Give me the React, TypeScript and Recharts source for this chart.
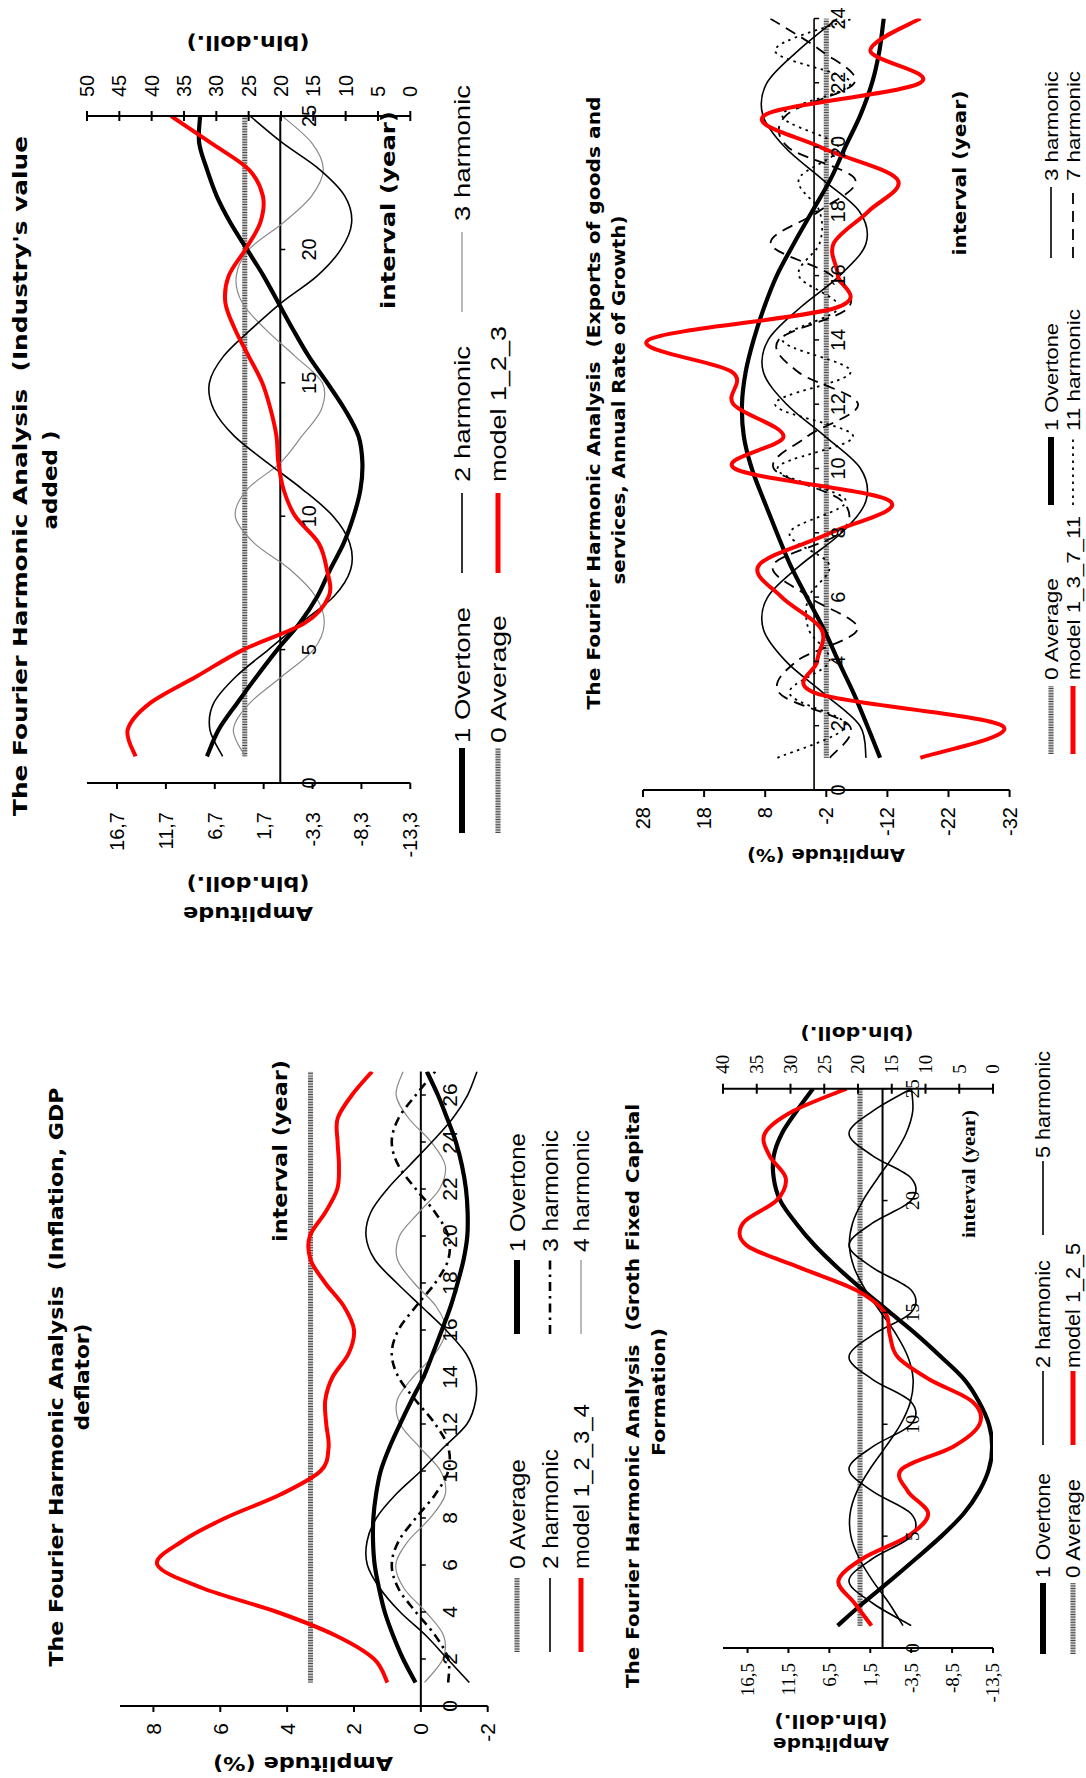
import React from 'react';
import { LineChart, Line, XAxis, YAxis, ReferenceLine, ReferenceDot } from 'recharts';

// ================= DATA =================
// Industry's value added (years 1..25). Harmonics on left axis, model & average on right axis.
const indYears = [1, 2, 3, 4, 5, 6, 7, 8, 9, 10, 11, 12, 13, 14, 15, 16, 17, 18, 19, 20, 21, 22, 23, 24, 25];
const indOvertone = [7.5, 6.3, 4.4, 2.4, 0.3, -2.0, -3.8, -5.1, -6.5, -7.5, -8.2, -8.4, -8.0, -6.6, -4.8, -2.9, -1.3, 0.2, 1.7, 3.4, 5.1, 6.5, 7.5, 8.3, 8.2];
const indHarm2 = [5.9, 7.2, 6.8, 4.5, 1.2, -2.1, -5.5, -7.2, -7.1, -5.4, -2.3, 1.3, 4.7, 6.8, 7.25, 5.8, 3.0, -0.1, -3.75, -6.2, -7.3, -6.6, -4.0, -0.2, 3.1];
const indHarm3 = [3.6, 4.8, 3.1, -0.2, -3.4, -4.5, -3.6, -1.0, 2.7, 4.6, 3.4, 0.0, -2.2, -4.2, -4.3, -1.5, 1.5, 3.9, 4.5, 3.2, -0.3, -3.2, -4.4, -3.2, -0.2];
const indModel = [42.5, 43.7, 40.2, 33.0, 25.8, 16.3, 12.6, 12.9, 14.2, 17.8, 19.6, 20.4, 20.7, 21.6, 22.9, 25.0, 27.1, 28.6, 28.1, 25.5, 23.2, 22.8, 25.0, 30.9, 37.0];
const indAverage = [25.6, 25.6, 25.6, 25.6, 25.6, 25.6, 25.6, 25.6, 25.6, 25.6, 25.6, 25.6, 25.6, 25.6, 25.6, 25.6, 25.6, 25.6, 25.6, 25.6, 25.6, 25.6, 25.6, 25.6, 25.6];
const indLeftTicks = [-13.3, -8.3, -3.3, 1.7, 6.7, 11.7, 16.7];
const indRightTicks = [0, 5, 10, 15, 20, 25, 30, 35, 40, 45, 50];
const indXTicks = [0, 5, 10, 15, 20, 25];

// Exports of goods and services (years 1..24)
const expYears = [1, 2, 3, 4, 5, 6, 7, 8, 9, 10, 11, 12, 13, 14, 15, 16, 17, 18, 19, 20, 21, 22, 23, 24];
const expOvertone = [-10.8, -8.7, -6.5, -4.0, -1.6, 1.2, 3.9, 6.1, 8.2, 10.2, 11.5, 11.8, 11.2, 9.9, 8.2, 6.1, 3.3, 0.3, -2.7, -5.1, -7.6, -9.5, -10.7, -11.4];
const expHarm3 = [-8.5, -7.5, -1.6, 4.6, 8.3, 7.6, 2.2, -4.5, -8.5, -7.6, -1.8, 4.5, 8.3, 7.5, 2.3, -4.2, -8.5, -7.4, -1.3, 4.8, 8.4, 7.7, 2.6, -3.8];
const expHarm7 = [-2.6, -5.8, 5.6, 2.9, -7.1, 0.8, 6.7, -4.3, -4.5, 6.6, 1.1, -7.2, 2.6, 5.8, -5.6, -2.9, 7.1, -0.8, -6.7, 4.3, 4.5, -6.6, -1.1, 7.2];
const expHarm11 = [6.0, -5.2, 4.0, -2.5, 0.9, 0.9, -2.5, 4.0, -5.2, 6.0, -6.4, 6.4, -6.0, 5.2, -4.0, 2.5, -0.9, -0.9, 2.5, -4.0, 5.2, -6.0, 6.4, -6.4];
const expModel = [-17.4, -30.8, -0.5, -0.5, -1.2, 5.3, 9.0, -2.7, -12.3, 13.0, 5.0, 13.2, 13.4, 27.1, -3.6, -3.9, -3.2, -8.9, -13.6, -1.0, 8.0, -17.4, -9.2, -17.4];
const expAverage = [-2, -2, -2, -2, -2, -2, -2, -2, -2, -2, -2, -2, -2, -2, -2, -2, -2, -2, -2, -2, -2, -2, -2, -2];
const expLeftTicks = [-32, -22, -12, -2, 8, 18, 28];
const expXTicks = [0, 2, 4, 6, 8, 10, 12, 14, 16, 18, 20, 22, 24];

// Inflation, GDP deflator (years 1..27)
const infYears = [1, 2, 3, 4, 5, 6, 7, 8, 9, 10, 11, 12, 13, 14, 15, 16, 17, 18, 19, 20, 21, 22, 23, 24, 25, 26, 27];
const infOvertone = [0.16, 0.53, 0.83, 1.08, 1.25, 1.38, 1.43, 1.42, 1.34, 1.2, 0.94, 0.62, 0.28, -0.08, -0.36, -0.63, -0.89, -1.1, -1.28, -1.39, -1.4, -1.35, -1.23, -1.05, -0.79, -0.51, -0.18];
const infHarm2 = [-1.45, -0.8, -0.15, 0.62, 1.22, 1.6, 1.61, 1.33, 0.75, 0.0, -0.68, -1.38, -1.64, -1.63, -1.35, -0.75, -0.02, 0.72, 1.38, 1.64, 1.5, 1.0, 0.34, -0.33, -0.95, -1.4, -1.68];
const infHarm3 = [-0.82, -0.82, -0.43, 0.15, 0.67, 0.87, 0.67, 0.15, -0.43, -0.82, -0.82, -0.43, 0.15, 0.67, 0.87, 0.67, 0.15, -0.43, -0.82, -0.82, -0.43, 0.15, 0.67, 0.87, 0.67, 0.15, -0.43];
const infHarm4 = [-0.11, -0.66, -0.68, -0.15, 0.5, 0.75, 0.39, -0.28, -0.73, -0.59, 0.03, 0.62, 0.71, 0.23, -0.43, -0.75, -0.46, 0.2, 0.7, 0.64, 0.06, -0.56, -0.73, -0.31, 0.36, 0.74, 0.53];
const infModel = [1.0, 1.4, 2.55, 4.3, 6.5, 7.88, 7.15, 5.85, 4.2, 3.0, 2.76, 2.83, 2.86, 2.64, 2.16, 2.0, 2.3, 2.86, 3.3, 3.32, 2.86, 2.5, 2.45, 2.49, 2.49, 2.06, 1.46];
const infAverage = [3.3, 3.3, 3.3, 3.3, 3.3, 3.3, 3.3, 3.3, 3.3, 3.3, 3.3, 3.3, 3.3, 3.3, 3.3, 3.3, 3.3, 3.3, 3.3, 3.3, 3.3, 3.3, 3.3, 3.3, 3.3, 3.3, 3.3];
const infLeftTicks = [-2, 0, 2, 4, 6, 8];
const infXTicks = [0, 2, 4, 6, 8, 10, 12, 14, 16, 18, 20, 22, 24, 26];

// Groth Fixed Capital Formation (years 1..25). Harmonics on left axis, model & average on right axis.
const groYears = [1, 2, 3, 4, 5, 6, 7, 8, 9, 10, 11, 12, 13, 14, 15, 16, 17, 18, 19, 20, 21, 22, 23, 24, 25];
const groOvertone = [5.5, 2.4, -0.9, -4.1, -7.2, -9.9, -11.8, -13.0, -13.4, -13.0, -11.8, -10.0, -7.2, -4.2, -0.9, 2.4, 5.5, 8.3, 10.6, 12.5, 13.3, 13.3, 12.3, 10.5, 8.5];
const groHarm2 = [-2.5, -0.8, 1.2, 2.85, 3.87, 3.97, 3.13, 1.54, -0.4, -2.2, -3.4, -3.74, -3.12, -1.7, 0.2, 2.07, 3.47, 4.05, 3.66, 2.4, 0.6, -1.33, -2.88, -3.69, -3.54];
const groHarm5 = [-3.5, 1.2, 4.1, 1.2, -3.5, -3.5, 1.2, 4.1, 1.2, -3.5, -3.5, 1.2, 4.1, 1.2, -3.5, -3.5, 1.2, 4.1, 1.2, -3.5, -3.5, 1.2, 4.1, 1.2, -3.5];
const groModel = [18.0, 20.5, 22.9, 19.3, 12.6, 9.6, 12.6, 13.5, 5.9, 2.0, 3.0, 9.4, 14.1, 15.3, 16.0, 20.3, 28.6, 36.5, 37.0, 32.1, 30.7, 33.1, 33.8, 29.6, 21.7];
const groAverage = [19.7, 19.7, 19.7, 19.7, 19.7, 19.7, 19.7, 19.7, 19.7, 19.7, 19.7, 19.7, 19.7, 19.7, 19.7, 19.7, 19.7, 19.7, 19.7, 19.7, 19.7, 19.7, 19.7, 19.7, 19.7];
const groLeftTicks = [-13.5, -8.5, -3.5, 1.5, 6.5, 11.5, 16.5];
const groRightTicks = [0, 5, 10, 15, 20, 25, 30, 35, 40];
const groXTicks = [0, 5, 10, 15, 20, 25];

// ================= STYLES =================
const SANS = "'Liberation Sans', Arial, Helvetica, sans-serif";
const BOLD = "'DejaVu Sans', Verdana, sans-serif";
const SERIF = "'Liberation Serif', 'Times New Roman', serif";

type LineStyle = { stroke: string; width: number; dash?: string };
const ST: Record<string, LineStyle[]> = {
  overtone: [{ stroke: '#000', width: 4.2 }],
  thin: [{ stroke: '#000', width: 1.6 }],
  gray: [{ stroke: '#8a8a8a', width: 1.2 }],
  model: [{ stroke: '#ff0000', width: 4 }],
  avg: [
    { stroke: '#c4c4c4', width: 5 },
    { stroke: '#4a4a4a', width: 5, dash: '1 1.6' },
  ],
  dashdot: [{ stroke: '#000', width: 2.6, dash: '9 5 2.5 5' }],
  dash: [{ stroke: '#000', width: 1.8, dash: '11 7' }],
  dot: [{ stroke: '#000', width: 1.8, dash: '2.5 4.5' }],
};

// Excel-like smoothed line (Catmull-Rom style Bezier through the points)
const excelCurve: any = (context: any) => {
  let pts: number[][] = [];
  return {
    areaStart() {},
    areaEnd() {},
    lineStart() {
      pts = [];
    },
    point(x: number, y: number) {
      pts.push([+x, +y]);
    },
    lineEnd() {
      const n = pts.length;
      if (!n) return;
      context.moveTo(pts[0][0], pts[0][1]);
      for (let i = 0; i < n - 1; i++) {
        const p0 = pts[Math.max(i - 1, 0)];
        const p1 = pts[i];
        const p2 = pts[i + 1];
        const p3 = pts[Math.min(i + 2, n - 1)];
        context.bezierCurveTo(
          p1[0] + (p2[0] - p0[0]) / 6,
          p1[1] + (p2[1] - p0[1]) / 6,
          p2[0] - (p3[0] - p1[0]) / 6,
          p2[1] - (p3[1] - p1[1]) / 6,
          p2[0],
          p2[1]
        );
      }
    },
  };
};

type Series = { key: string; axis: 'left' | 'right'; style: string };
type ChartDef = {
  rows: any[];
  series: Series[];
  X0: number; X1: number; Y0: number; Y1: number;
  xDomain: [number, number];
  leftDomain: [number, number];
  rightDomain?: [number, number];
  leftTicks: number[];
  rightTicks?: number[];
  xTicks: number[];
  wL: number; wR: number;
  font: string; fontSize: number;
  leftGap: number; rightGap: number; tickLen: number; xLabelDy: number;
  axisW: number; zeroW: number;
};

const fmt = (v: number) => String(v).replace('.', ',');

function build(years: number[], cols: Record<string, number[]>) {
  return years.map((t, i) => {
    const r: any = { t };
    Object.keys(cols).forEach((k) => (r[k] = cols[k][i]));
    return r;
  });
}

function HarmonicChart({ def }: { def: ChartDef }) {
  const mt = 30;
  const mb = 50;
  const plotW = def.X1 - def.X0;
  const plotH = def.Y1 - def.Y0;
  const hasRight = !!def.rightDomain;
  const width = def.wL + plotW + def.wR;
  const height = mt + plotH + mb;
  const left = def.X0 - def.wL;
  const top = def.Y0 - mt;

  const leftTick = (p: any) => (
    <g>
      <line x1={p.x - def.tickLen} x2={p.x} y1={p.y} y2={p.y} stroke="#000" strokeWidth={def.axisW} />
      <text x={p.x - def.leftGap} y={p.y} textAnchor="end" dominantBaseline="central" fontFamily={def.font} fontSize={def.fontSize} fill="#000">
        {fmt(p.payload.value)}
      </text>
    </g>
  );
  const rightTick = (p: any) => (
    <g>
      <line x1={p.x - 5} x2={p.x + 5} y1={p.y} y2={p.y} stroke="#000" strokeWidth={def.axisW} />
      <text x={p.x + def.rightGap} y={p.y} textAnchor="start" dominantBaseline="central" fontFamily={def.font} fontSize={def.fontSize} fill="#000">
        {fmt(p.payload.value)}
      </text>
    </g>
  );

  const lines: any[] = [];
  def.series.forEach((s, si) => {
    ST[s.style].forEach((ls, li) => {
      lines.push(
        <Line
          key={`${s.key}-${si}-${li}`}
          yAxisId={s.axis}
          dataKey={s.key}
          type={excelCurve}
          stroke={ls.stroke}
          strokeWidth={ls.width}
          strokeDasharray={ls.dash}
          dot={false}
          activeDot={false}
          isAnimationActive={false}
          legendType="none"
        />
      );
    });
  });

  return (
    <div style={{ position: 'absolute', left, top, width, height }}>
      <LineChart width={width} height={height} data={def.rows} margin={{ top: mt, bottom: mb, left: 0, right: hasRight ? 0 : def.wR }}>
        <XAxis dataKey="t" type="number" domain={def.xDomain} allowDataOverflow hide height={0} />
        <YAxis
          yAxisId="left"
          type="number"
          domain={def.leftDomain}
          allowDataOverflow
          ticks={def.leftTicks}
          interval={0}
          width={def.wL}
          tickSize={0}
          tickMargin={0}
          tickLine={false}
          axisLine={{ stroke: '#000', strokeWidth: def.axisW }}
          tick={leftTick}
        />
        {hasRight && (
          <YAxis
            yAxisId="right"
            orientation="right"
            type="number"
            domain={def.rightDomain}
            allowDataOverflow
            ticks={def.rightTicks}
            interval={0}
            width={def.wR}
            tickSize={0}
            tickMargin={0}
            tickLine={false}
            axisLine={{ stroke: '#000', strokeWidth: def.axisW }}
            tick={rightTick}
          />
        )}
        <ReferenceLine yAxisId="left" y={0} stroke="#000" strokeWidth={def.zeroW} ifOverflow="visible" />
        {def.xTicks.map((v) => (
          <ReferenceDot
            key={`xt-${v}`}
            yAxisId="left"
            x={v}
            y={0}
            r={1}
            ifOverflow="visible"
            shape={(p: any) => (
              <g>
                <line x1={p.cx} x2={p.cx} y1={p.cy} y2={p.cy + 5} stroke="#000" strokeWidth={1.5} />
                <text x={p.cx} y={p.cy + def.xLabelDy} textAnchor="middle" dominantBaseline="central" fontFamily={def.font} fontSize={def.fontSize} fill="#000">
                  {v}
                </text>
              </g>
            )}
          />
        ))}
        {lines}
      </LineChart>
    </div>
  );
}

// ================= CHART DEFINITIONS =================
const industry: ChartDef = {
  rows: build(indYears, { ov: indOvertone, h2: indHarm2, h3: indHarm3, model: indModel, avg: indAverage }),
  series: [
    { key: 'avg', axis: 'right', style: 'avg' },
    { key: 'h3', axis: 'left', style: 'gray' },
    { key: 'h2', axis: 'left', style: 'thin' },
    { key: 'ov', axis: 'left', style: 'overtone' },
    { key: 'model', axis: 'right', style: 'model' },
  ],
  X0: 995, X1: 1662, Y0: 86.7, Y1: 410,
  xDomain: [0, 25], leftDomain: [-13.3, 19.77], rightDomain: [0, 50],
  leftTicks: indLeftTicks, rightTicks: indRightTicks, xTicks: indXTicks,
  wL: 100, wR: 90, font: SANS, fontSize: 20,
  leftGap: 29, rightGap: 19, tickLen: 6, xLabelDy: 29, axisW: 2, zeroW: 2,
};

const exportsDef: ChartDef = {
  rows: build(expYears, { ov: expOvertone, h3: expHarm3, h7: expHarm7, h11: expHarm11, model: expModel, avg: expAverage }),
  series: [
    { key: 'avg', axis: 'left', style: 'avg' },
    { key: 'h11', axis: 'left', style: 'dot' },
    { key: 'h7', axis: 'left', style: 'dash' },
    { key: 'h3', axis: 'left', style: 'thin' },
    { key: 'ov', axis: 'left', style: 'overtone' },
    { key: 'model', axis: 'left', style: 'model' },
  ],
  X0: 988, X1: 1759.6, Y0: 642.7, Y1: 1009.3,
  xDomain: [0, 24], leftDomain: [-32, 28],
  leftTicks: expLeftTicks, xTicks: expXTicks,
  wL: 90, wR: 10, font: SANS, fontSize: 20,
  leftGap: 17, rightGap: 15, tickLen: 7, xLabelDy: 24, axisW: 2, zeroW: 1.6,
};

const inflation: ChartDef = {
  rows: build(infYears, { ov: infOvertone, h2: infHarm2, h3: infHarm3, h4: infHarm4, model: infModel, avg: infAverage }),
  series: [
    { key: 'avg', axis: 'left', style: 'avg' },
    { key: 'h4', axis: 'left', style: 'gray' },
    { key: 'h3', axis: 'left', style: 'dashdot' },
    { key: 'h2', axis: 'left', style: 'thin' },
    { key: 'ov', axis: 'left', style: 'overtone' },
    { key: 'model', axis: 'left', style: 'model' },
  ],
  X0: 72, X1: 706.5, Y0: 120, Y1: 487.7,
  xDomain: [0, 27], leftDomain: [-2, 9],
  leftTicks: infLeftTicks, xTicks: infXTicks,
  wL: 70, wR: 10, font: SANS, fontSize: 21,
  leftGap: 17, rightGap: 15, tickLen: 6, xLabelDy: 29, axisW: 2, zeroW: 2,
};

const groth: ChartDef = {
  rows: build(groYears, { ov: groOvertone, h2: groHarm2, h5: groHarm5, model: groModel, avg: groAverage }),
  series: [
    { key: 'avg', axis: 'right', style: 'avg' },
    { key: 'h5', axis: 'left', style: 'thin' },
    { key: 'h2', axis: 'left', style: 'thin' },
    { key: 'ov', axis: 'left', style: 'overtone' },
    { key: 'model', axis: 'right', style: 'model' },
  ],
  X0: 129.7, X1: 689, Y0: 723.3, Y1: 993.3,
  xDomain: [0, 25], leftDomain: [-13.5, 19.5], rightDomain: [0, 40],
  leftTicks: groLeftTicks, rightTicks: groRightTicks, xTicks: groXTicks,
  wL: 100, wR: 80, font: SERIF, fontSize: 19,
  leftGap: 15, rightGap: 15, tickLen: 5, xLabelDy: 30, axisW: 2, zeroW: 2,
};

// ================= OVERLAY TEXT =================
function Txt(props: { x: number; y: number; s: string; size: number; len?: number; font?: string; bold?: boolean; rot?: boolean; anchor?: string }) {
  const { x, y, s, size, len, font = BOLD, bold = true, rot = false, anchor = 'middle' } = props;
  return (
    <text
      x={x}
      y={y}
      fontSize={size}
      fontFamily={font}
      fontWeight={bold ? 'bold' : 'normal'}
      textAnchor={anchor as any}
      dominantBaseline="central"
      textLength={len}
      lengthAdjust={len ? 'spacingAndGlyphs' : undefined}
      transform={rot ? `rotate(-90 ${x} ${y})` : undefined}
      fill="#000"
    >
      {s}
    </text>
  );
}

function Marker({ x0, x1, y, style }: { x0: number; x1: number; y: number; style: string }) {
  return (
    <g>
      {ST[style].map((ls, i) => (
        <line key={i} x1={x0} x2={x1} y1={y} y2={y} stroke={ls.stroke} strokeWidth={style === 'overtone' ? 6 : style === 'model' ? 5 : ls.width} strokeDasharray={ls.dash} />
      ))}
    </g>
  );
}

type LegendItem = { mx0: number; mx1: number; tx: number; y: number; style: string; label: string; len: number };

const NB = '\u00A0';

const legendItems: { items: LegendItem[]; size: number }[] = [
  {
    size: 22,
    items: [
      { mx0: 945, mx1: 1030, tx: 1035, y: 462, style: 'overtone', label: '1 Overtone', len: 136 },
      { mx0: 945, mx1: 1030, tx: 1035, y: 498, style: 'avg', label: '0 Average', len: 128 },
      { mx0: 1205, mx1: 1285, tx: 1296, y: 462, style: 'thin', label: '2 harmonic', len: 136 },
      { mx0: 1205, mx1: 1285, tx: 1296, y: 498, style: 'model', label: 'model 1_2_3', len: 156 },
      { mx0: 1466, mx1: 1546, tx: 1557, y: 462, style: 'gray', label: '3 harmonic', len: 136 },
    ],
  },
  {
    size: 19,
    items: [
      { mx0: 1024, mx1: 1092, tx: 1098, y: 1051, style: 'avg', label: '0 Average', len: 102 },
      { mx0: 1273, mx1: 1341, tx: 1347, y: 1051, style: 'overtone', label: '1 Overtone', len: 108 },
      { mx0: 1520, mx1: 1591, tx: 1597, y: 1051, style: 'thin', label: '3 harmonic', len: 110 },
      { mx0: 1024, mx1: 1092, tx: 1098, y: 1073, style: 'model', label: 'model 1_3_7_11', len: 164 },
      { mx0: 1273, mx1: 1341, tx: 1347, y: 1073, style: 'dot', label: '11 harmonic', len: 122 },
      { mx0: 1520, mx1: 1591, tx: 1597, y: 1073, style: 'dash', label: '7 harmonic', len: 110 },
    ],
  },
  {
    size: 22,
    items: [
      { mx0: 126, mx1: 200, tx: 209, y: 517, style: 'avg', label: '0 Average', len: 110 },
      { mx0: 444, mx1: 518, tx: 526, y: 517, style: 'overtone', label: '1 Overtone', len: 119 },
      { mx0: 126, mx1: 200, tx: 209, y: 550, style: 'thin', label: '2 harmonic', len: 120 },
      { mx0: 444, mx1: 518, tx: 526, y: 550, style: 'dashdot', label: '3 harmonic', len: 122 },
      { mx0: 126, mx1: 200, tx: 209, y: 581, style: 'model', label: 'model 1_2_3_4', len: 165 },
      { mx0: 444, mx1: 518, tx: 526, y: 581, style: 'gray', label: '4 harmonic', len: 122 },
    ],
  },
  {
    size: 20,
    items: [
      { mx0: 124, mx1: 195, tx: 200, y: 1043, style: 'overtone', label: '1 Overtone', len: 105 },
      { mx0: 124, mx1: 195, tx: 200, y: 1073, style: 'avg', label: '0 Average', len: 99 },
      { mx0: 333, mx1: 407, tx: 410, y: 1043, style: 'thin', label: '2 harmonic', len: 108 },
      { mx0: 333, mx1: 407, tx: 410, y: 1073, style: 'model', label: 'model 1_2_5', len: 125 },
      { mx0: 543, mx1: 617, tx: 620, y: 1043, style: 'thin', label: '5 harmonic', len: 107 },
    ],
  },
];

function Overlay() {
  return (
    <svg width={1778} height={1086} style={{ position: 'absolute', left: 0, top: 0, pointerEvents: 'none' }}>
      {/* Industry */}
      <Txt x={1302} y={20} s={`The Fourier Harmonic Analysis ${NB}(Industry's value`} size={20} len={680} />
      <Txt x={1298} y={50} s="added )" size={20} len={99} />
      <Txt x={864} y={248} s="Amplitude" size={19} len={130} rot />
      <Txt x={894} y={248} s="(bln.doll.)" size={19} len={123} rot />
      <Txt x={1735} y={248} s="(bln.doll.)" size={19} len={123} rot />
      <Txt x={1568} y={388} s="interval (year)" size={19} len={198} />

      {/* Exports */}
      <Txt x={1375} y={593} s={`The Fourier Harmonic Analysis ${NB}(Exports of goods and`} size={18} len={613} />
      <Txt x={1378} y={618} s="services, Annual Rate of Growth)" size={18} len={369} />
      <Txt x={923} y={826} s="Amplitude (%)" size={17} len={158} rot />
      <Txt x={1605} y={960} s="interval (year)" size={17} len={165} />

      {/* Inflation */}
      <Txt x={401} y={56} s={`The Fourier Harmonic Analysis ${NB}(Inflation, GDP`} size={19} len={579} />
      <Txt x={401} y={82} s="deflator)" size={19} len={107} />
      <Txt x={14} y={303} s="Amplitude (%)" size={19} len={180} rot />
      <Txt x={627} y={280} s="interval (year)" size={19} len={182} />

      {/* Groth */}
      <Txt x={382} y={632} s={`The Fourier Harmonic Analysis ${NB}(Groth Fixed Capital`} size={18} len={584} />
      <Txt x={386} y={658} s="Formation)" size={18} len={128} />
      <Txt x={34} y={831} s="Amplitude" size={18} len={116} rot />
      <Txt x={57} y={831} s="(bln.doll.)" size={18} len={113} rot />
      <Txt x={745} y={857} s="(bln.doll.)" size={18} len={113} rot />
      <Txt x={604} y={968} s="interval (year)" size={19} len={128} font={SERIF} />

      {legendItems.map((grp, gi) =>
        grp.items.map((it, ii) => (
          <g key={`lg-${gi}-${ii}`}>
            <Marker x0={it.mx0} x1={it.mx1} y={it.y} style={it.style} />
            <Txt x={it.tx} y={it.y} s={it.label} size={grp.size} len={it.len} font={SANS} bold={false} anchor="start" />
          </g>
        ))
      )}
    </svg>
  );
}

export default function App() {
  return (
    <div style={{ position: 'absolute', left: 0, top: 0, width: 1086, height: 1778, overflow: 'hidden', background: '#fff' }}>
      <div
        style={{
          position: 'absolute',
          left: 0,
          top: 0,
          width: 1778,
          height: 1086,
          transformOrigin: '0 0',
          transform: 'translate(0px, 1778px) rotate(-90deg)',
          background: '#fff',
        }}
      >
        <HarmonicChart def={industry} />
        <HarmonicChart def={exportsDef} />
        <HarmonicChart def={inflation} />
        <HarmonicChart def={groth} />
        <Overlay />
      </div>
    </div>
  );
}
